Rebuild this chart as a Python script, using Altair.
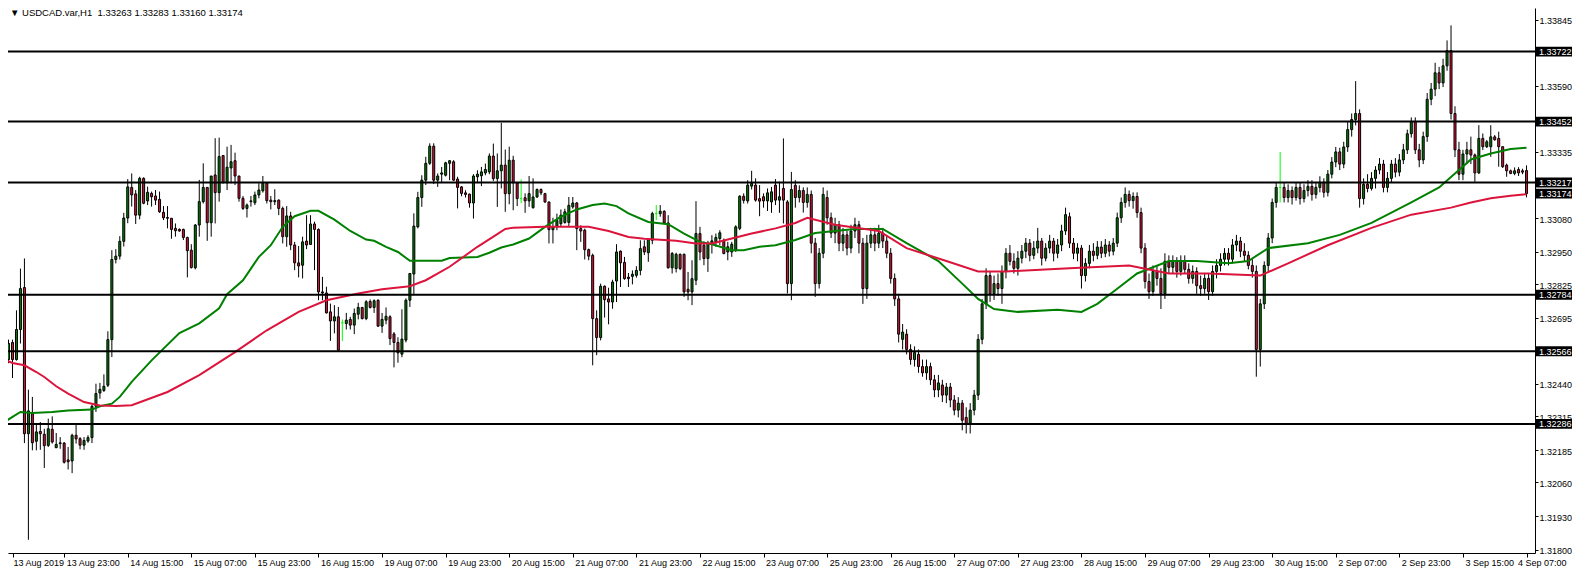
import altair as alt
import pandas as pd
import numpy as np

# ---------------- data ----------------
opens = [1.32600,1.32534,1.32600,1.32534,1.32650,1.32812,1.32248,1.32325,1.32219,1.32257,
1.32246,1.32203,1.32265,1.32194,1.32210,1.32212,1.32147,1.32143,1.32242,1.32229,
1.32204,1.32220,1.32233,1.32354,1.32405,1.32415,1.32435,1.32611,1.32920,1.32933,
1.32990,1.33080,1.33198,1.33173,1.33091,1.33233,1.33146,1.33175,1.33165,1.33152,
1.33102,1.33082,1.33079,1.33040,1.33036,1.33036,1.33005,1.32956,1.32888,1.33053,
1.33143,1.33198,1.33062,1.33246,1.33178,1.33321,1.33216,1.33273,1.33301,1.33242,
1.33156,1.33117,1.33143,1.33139,1.33169,1.33185,1.33214,1.33149,1.33143,1.33149,
1.33117,1.33008,1.33088,1.32976,1.32907,1.32898,1.32991,1.32978,1.33057,1.33036,
1.32795,1.32791,1.32718,1.32683,1.32699,1.32676,1.32673,1.32689,1.32667,1.32709,
1.32735,1.32692,1.32758,1.32735,1.32763,1.32663,1.32686,1.32699,1.32633,1.32600,
1.32555,1.32609,1.32763,1.32864,1.33046,1.33159,1.33226,1.33291,1.33357,1.33226,
1.33249,1.33245,1.33291,1.33297,1.33230,1.33200,1.33177,1.33172,1.33138,1.33239,
1.33243,1.33254,1.33258,1.33319,1.33232,1.33262,1.33284,1.33174,1.33303,1.33216,
1.33155,1.33158,1.33146,1.33120,1.33161,1.33190,1.33174,1.33142,1.33035,1.33046,
1.33058,1.33063,1.33063,1.33123,1.33138,1.33039,1.33033,1.32958,1.32936,1.32692,
1.32619,1.32817,1.32768,1.32756,1.32837,1.32952,1.32909,1.32852,1.32855,1.32859,
1.32878,1.32969,1.32946,1.32994,1.33097,1.33097,1.33106,1.33061,1.32888,1.32885,
1.32940,1.32940,1.32805,1.32795,1.32840,1.33020,1.32975,1.32924,1.32979,1.32988,
1.33001,1.32994,1.32949,1.32949,1.32956,1.33040,1.33164,1.33146,1.33203,1.33207,
1.33155,1.33162,1.33146,1.33142,1.33207,1.33149,1.33194,1.33142,1.32827,
1.33206,1.33159,1.33186,1.33140,1.33171,1.32983,1.32827,1.32944,1.33159,1.33081,
1.33022,1.33054,1.32983,1.33015,1.32964,1.33030,1.33054,1.32983,1.32808,1.32983,
1.33015,1.32983,1.33022,1.32991,1.32944,1.32847,1.32768,1.32612,1.32632,1.32573,
1.32534,1.32554,1.32507,1.32483,1.32507,1.32456,1.32417,1.32436,1.32397,1.32428,
1.32378,1.32339,1.32366,1.32311,1.32288,1.32339,1.32397,1.32612,1.32749,1.32858,
1.32788,1.32827,1.32808,1.32874,1.32944,1.32913,1.32886,1.32925,1.32952,1.32983,
1.32936,1.32964,1.32991,1.32925,1.32964,1.32991,1.32944,1.32976,1.33030,1.33085,
1.32983,1.32944,1.32964,1.32858,1.32905,1.32952,1.32936,1.32968,1.32944,1.32976,
1.32952,1.32983,1.33081,1.33140,1.33171,1.33147,1.33163,1.33101,1.32964,1.32835,
1.32796,1.32874,1.32847,1.32788,1.32913,1.32890,1.32913,1.32874,1.32913,1.32882,
1.32847,1.32874,1.32819,1.32808,1.32847,1.32796,1.32874,1.32897,1.32921,1.32944,
1.32921,1.32976,1.32991,1.32952,1.32936,1.32897,1.32874,1.32573,1.32749,1.32897,
1.33003,1.33140,1.33198,1.33198,1.33159,1.33186,1.33159,1.33198,1.33155,1.33186,
1.33202,1.33171,1.33198,1.33218,1.33179,1.33249,1.33296,1.33335,1.33288,1.33354,
1.33421,1.33460,1.33483,1.33155,1.33210,1.33194,1.33233,1.33265,1.33288,1.33198,
1.33233,1.33288,1.33257,1.33304,1.33343,1.33405,1.33452,1.33343,1.33304,1.33394,
1.33538,1.33577,1.33640,1.33601,1.33667,1.33726,1.33483,1.33343,1.33249,1.33327,
1.33343,1.33323,1.33254,1.33387,1.33355,1.33355,1.33393,1.33387,1.33355,1.33284,
1.33262,1.33252,1.33267,1.33262,1.33263]
highs = [1.32628,1.32611,1.32611,1.32724,1.32885,1.32924,1.32418,1.32390,1.32289,1.32293,
1.32267,1.32306,1.32315,1.32251,1.32235,1.32216,1.32197,1.32248,1.32289,1.32235,
1.32235,1.32242,1.32360,1.32441,1.32444,1.32477,1.32643,1.32956,1.32960,1.33010,
1.33100,1.33230,1.33252,1.33188,1.33239,1.33237,1.33201,1.33182,1.33188,1.33182,
1.33126,1.33126,1.33079,1.33059,1.33040,1.33039,1.33008,1.32979,1.33057,1.33227,
1.33291,1.33198,1.33242,1.33388,1.33390,1.33323,1.33355,1.33362,1.33332,1.33242,
1.33165,1.33136,1.33165,1.33182,1.33214,1.33242,1.33216,1.33165,1.33191,1.33152,
1.33124,1.33126,1.33104,1.32988,1.32972,1.33008,1.33091,1.33091,1.33066,1.33040,
1.32853,1.32815,1.32750,1.32744,1.32737,1.32689,1.32714,1.32699,1.32731,1.32753,
1.32737,1.32763,1.32766,1.32766,1.32766,1.32714,1.32735,1.32705,1.32640,1.32620,
1.32728,1.32770,1.32866,1.33098,1.33181,1.33245,1.33316,1.33368,1.33368,1.33252,
1.33277,1.33297,1.33303,1.33303,1.33239,1.33203,1.33187,1.33174,1.33249,1.33264,
1.33277,1.33290,1.33329,1.33367,1.33329,1.33447,1.33344,1.33355,1.33320,1.33216,
1.33229,1.33175,1.33242,1.33233,1.33194,1.33194,1.33177,1.33142,1.33081,1.33097,
1.33113,1.33116,1.33161,1.33161,1.33142,1.33052,1.33039,1.32962,1.32943,1.32724,
1.32827,1.32820,1.32811,1.32842,1.32979,1.32955,1.32930,1.32868,1.32878,1.32894,
1.32994,1.32994,1.33001,1.33104,1.33130,1.33130,1.33110,1.33091,1.32949,1.32946,
1.32943,1.32943,1.32872,1.32917,1.33145,1.33046,1.32990,1.32992,1.33014,1.33020,
1.33033,1.33001,1.32988,1.32988,1.33052,1.33168,1.33175,1.33226,1.33262,1.33233,
1.33207,1.33175,1.33194,1.33200,1.33230,1.33220,1.33387,1.33149,1.33258,
1.33226,1.33206,1.33198,1.33198,1.33186,1.33003,1.32964,1.33198,1.33186,1.33101,
1.33081,1.33069,1.33042,1.33030,1.33054,1.33081,1.33069,1.33003,1.33015,1.33042,
1.33042,1.33054,1.33042,1.33015,1.32964,1.32866,1.32788,1.32671,1.32651,1.32593,
1.32585,1.32573,1.32534,1.32534,1.32522,1.32475,1.32475,1.32456,1.32444,1.32444,
1.32397,1.32389,1.32378,1.32350,1.32366,1.32417,1.32632,1.32768,1.32886,1.32874,
1.32858,1.32866,1.32897,1.32964,1.32976,1.32944,1.32952,1.32976,1.33003,1.32999,
1.32991,1.33042,1.33003,1.32983,1.33015,1.33003,1.32999,1.33054,1.33120,1.33101,
1.33003,1.32983,1.32976,1.32925,1.32976,1.32983,1.32991,1.32991,1.32999,1.32991,
1.33003,1.33101,1.33159,1.33198,1.33186,1.33179,1.33179,1.33120,1.32983,1.32866,
1.32897,1.32897,1.32886,1.32944,1.32936,1.32936,1.32929,1.32936,1.32936,1.32905,
1.32897,1.32890,1.32858,1.32866,1.32866,1.32897,1.32921,1.32944,1.32964,1.32964,
1.32999,1.33015,1.33007,1.32983,1.32952,1.32925,1.32897,1.32768,1.32913,1.33022,
1.33155,1.33218,1.33335,1.33218,1.33210,1.33202,1.33218,1.33218,1.33210,1.33226,
1.33226,1.33218,1.33241,1.33233,1.33265,1.33315,1.33354,1.33351,1.33374,1.33452,
1.33483,1.33608,1.33499,1.33233,1.33249,1.33257,1.33280,1.33311,1.33304,1.33257,
1.33304,1.33311,1.33327,1.33366,1.33421,1.33468,1.33468,1.33366,1.33413,1.33562,
1.33601,1.33679,1.33663,1.33694,1.33765,1.33823,1.33511,1.33374,1.33343,1.33374,
1.33394,1.33329,1.33438,1.33406,1.33381,1.33438,1.33400,1.33413,1.33355,1.33290,
1.33267,1.33275,1.33276,1.33270,1.33283]
lows = [1.32490,1.32520,1.32463,1.32530,1.32596,1.32212,1.31839,1.32184,1.32184,1.32186,
1.32116,1.32197,1.32210,1.32193,1.32190,1.32133,1.32110,1.32096,1.32210,1.32188,
1.32186,1.32213,1.32212,1.32332,1.32383,1.32409,1.32428,1.32544,1.32905,1.32920,
1.32970,1.33060,1.33124,1.33057,1.33075,1.33133,1.33130,1.33124,1.33130,1.33100,
1.33072,1.33040,1.33000,1.33008,1.33027,1.32995,1.32851,1.32885,1.32882,1.33008,
1.33136,1.32992,1.33008,1.33059,1.33143,1.33214,1.33188,1.33214,1.33207,1.33143,
1.33111,1.33082,1.33124,1.33130,1.33156,1.33178,1.33136,1.33113,1.33130,1.33091,
1.32982,1.32969,1.32956,1.32879,1.32851,1.32847,1.32960,1.32976,1.32879,1.32763,
1.32763,1.32712,1.32606,1.32635,1.32568,1.32606,1.32650,1.32650,1.32632,1.32689,
1.32689,1.32686,1.32731,1.32714,1.32660,1.32637,1.32670,1.32590,1.32504,1.32522,
1.32543,1.32600,1.32737,1.32782,1.33040,1.33123,1.33207,1.33285,1.33211,1.33200,
1.33219,1.33240,1.33226,1.33223,1.33117,1.33164,1.33159,1.33120,1.33078,1.33215,
1.33203,1.33245,1.33249,1.33223,1.33123,1.33194,1.33104,1.33133,1.33110,1.33126,
1.33138,1.33100,1.33123,1.33116,1.33158,1.33168,1.33138,1.32982,1.32982,1.33033,
1.33049,1.33058,1.33046,1.33116,1.32956,1.32988,1.32920,1.32917,1.32512,1.32551,
1.32608,1.32696,1.32670,1.32730,1.32756,1.32814,1.32842,1.32814,1.32824,1.32850,
1.32859,1.32937,1.32911,1.32979,1.33072,1.33085,1.33059,1.32885,1.32866,1.32870,
1.32879,1.32776,1.32763,1.32744,1.32821,1.32917,1.32898,1.32872,1.32943,1.32969,
1.32975,1.32940,1.32917,1.32930,1.32949,1.33033,1.33136,1.33136,1.33190,1.33143,
1.33087,1.33120,1.33107,1.33100,1.33130,1.33100,1.33059,1.32789,1.32763,
1.33120,1.33140,1.33101,1.33120,1.32944,1.32776,1.32808,1.32925,1.33054,1.33003,
1.32983,1.32952,1.32952,1.32936,1.32944,1.33003,1.32944,1.32749,1.32768,1.32964,
1.32952,1.32964,1.32964,1.32925,1.32827,1.32741,1.32600,1.32573,1.32554,1.32514,
1.32507,1.32483,1.32468,1.32456,1.32436,1.32389,1.32389,1.32370,1.32366,1.32350,
1.32319,1.32311,1.32261,1.32249,1.32249,1.32319,1.32378,1.32593,1.32729,1.32757,
1.32764,1.32780,1.32749,1.32847,1.32897,1.32866,1.32858,1.32905,1.32925,1.32913,
1.32921,1.32944,1.32897,1.32913,1.32944,1.32913,1.32925,1.32952,1.33015,1.32964,
1.32921,1.32913,1.32808,1.32835,1.32886,1.32913,1.32921,1.32925,1.32929,1.32932,
1.32936,1.32968,1.33061,1.33120,1.33124,1.33116,1.33081,1.32944,1.32808,1.32768,
1.32780,1.32819,1.32729,1.32768,1.32866,1.32866,1.32850,1.32858,1.32866,1.32827,
1.32827,1.32788,1.32780,1.32788,1.32764,1.32780,1.32847,1.32874,1.32897,1.32897,
1.32905,1.32952,1.32929,1.32913,1.32882,1.32850,1.32468,1.32507,1.32729,1.32874,
1.32983,1.33120,1.33140,1.33140,1.33140,1.33132,1.33147,1.33132,1.33140,1.33163,
1.33147,1.33155,1.33179,1.33159,1.33163,1.33233,1.33276,1.33265,1.33272,1.33335,
1.33394,1.33437,1.33120,1.33132,1.33179,1.33186,1.33194,1.33249,1.33179,1.33179,
1.33218,1.33237,1.33241,1.33288,1.33327,1.33390,1.33327,1.33276,1.33288,1.33374,
1.33515,1.33550,1.33577,1.33585,1.33648,1.33460,1.33315,1.33226,1.33226,1.33288,
1.33288,1.33220,1.33250,1.33342,1.33350,1.33316,1.33378,1.33278,1.33273,1.33239,
1.33249,1.33245,1.33242,1.33249,1.33160]
closes = [1.32534,1.32596,1.32534,1.32650,1.32808,1.32248,1.32336,1.32213,1.32255,1.32248,
1.32202,1.32267,1.32216,1.32207,1.32213,1.32138,1.32140,1.32242,1.32228,1.32204,
1.32222,1.32233,1.32354,1.32403,1.32419,1.32431,1.32611,1.32920,1.32933,1.32990,
1.33080,1.33200,1.33169,1.33091,1.33233,1.33137,1.33179,1.33162,1.33149,1.33104,
1.33081,1.33079,1.33036,1.33031,1.33030,1.33005,1.32954,1.32889,1.33053,1.33143,
1.33198,1.33062,1.33242,1.33178,1.33317,1.33216,1.33276,1.33297,1.33242,1.33156,
1.33117,1.33130,1.33146,1.33169,1.33188,1.33214,1.33147,1.33143,1.33147,1.33117,
1.33008,1.33088,1.32976,1.32907,1.32895,1.32988,1.32976,1.33057,1.33036,1.32795,
1.32791,1.32714,1.32683,1.32699,1.32570,1.32676,1.32686,1.32667,1.32712,1.32735,
1.32692,1.32757,1.32735,1.32761,1.32663,1.32689,1.32701,1.32615,1.32600,1.32560,
1.32613,1.32763,1.32866,1.33049,1.33159,1.33226,1.33291,1.33357,1.33226,1.33242,
1.33254,1.33293,1.33301,1.33226,1.33198,1.33175,1.33171,1.33138,1.33242,1.33249,
1.33258,1.33267,1.33319,1.33232,1.33262,1.33284,1.33174,1.33303,1.33216,1.33155,
1.33155,1.33146,1.33174,1.33161,1.33190,1.33177,1.33142,1.33035,1.33046,1.33071,
1.33091,1.33104,1.33129,1.33138,1.33039,1.33030,1.32958,1.32933,1.32692,1.32619,
1.32817,1.32765,1.32756,1.32833,1.32949,1.32907,1.32846,1.32846,1.32863,1.32878,
1.32962,1.32949,1.32997,1.33097,1.33097,1.33106,1.33061,1.32888,1.32943,1.32940,
1.32885,1.32795,1.32795,1.32846,1.33020,1.32949,1.32924,1.32982,1.32992,1.33005,
1.33023,1.32943,1.32969,1.32979,1.33046,1.33164,1.33148,1.33207,1.33213,1.33149,
1.33145,1.33146,1.33177,1.33181,1.33149,1.33162,1.33149,1.32827,1.33190,
1.33159,1.33186,1.33140,1.33171,1.32983,1.32827,1.32944,1.33171,1.33081,1.33022,
1.33054,1.32983,1.33015,1.32964,1.33030,1.33054,1.32983,1.32808,1.32983,1.33015,
1.32983,1.33022,1.32991,1.32944,1.32847,1.32768,1.32632,1.32640,1.32573,1.32534,
1.32561,1.32507,1.32483,1.32507,1.32456,1.32417,1.32444,1.32397,1.32428,1.32378,
1.32339,1.32366,1.32300,1.32288,1.32339,1.32397,1.32612,1.32749,1.32858,1.32788,
1.32827,1.32808,1.32874,1.32944,1.32913,1.32886,1.32925,1.32952,1.32983,1.32936,
1.32964,1.32991,1.32925,1.32964,1.32991,1.32944,1.32976,1.33030,1.33093,1.32983,
1.32944,1.32964,1.32858,1.32905,1.32952,1.32936,1.32968,1.32944,1.32976,1.32952,
1.32983,1.33081,1.33140,1.33171,1.33147,1.33163,1.33101,1.32964,1.32835,1.32796,
1.32874,1.32847,1.32788,1.32913,1.32890,1.32913,1.32874,1.32913,1.32882,1.32847,
1.32874,1.32819,1.32808,1.32847,1.32796,1.32874,1.32897,1.32921,1.32944,1.32921,
1.32976,1.32991,1.32952,1.32936,1.32897,1.32874,1.32573,1.32749,1.32897,1.33003,
1.33140,1.33198,1.33198,1.33159,1.33186,1.33159,1.33198,1.33155,1.33186,1.33202,
1.33171,1.33198,1.33218,1.33179,1.33249,1.33296,1.33335,1.33288,1.33354,1.33421,
1.33460,1.33483,1.33155,1.33210,1.33194,1.33233,1.33265,1.33288,1.33198,1.33233,
1.33288,1.33257,1.33304,1.33343,1.33405,1.33452,1.33343,1.33304,1.33394,1.33538,
1.33577,1.33640,1.33601,1.33667,1.33726,1.33483,1.33343,1.33249,1.33327,1.33343,
1.33323,1.33254,1.33387,1.33355,1.33374,1.33393,1.33382,1.33355,1.33278,1.33262,
1.33252,1.33262,1.33254,1.33257,1.33174]

fast_ma_bar = [0,2,4,7,12,16,22,24,27,29,32,37,44,49,54,56,60,64,67,70,73,77,79,83,87,91,93,96,99,102,
110,112,119,122,125,128,132,136,140,144,148,151,154,157,162,167,171,175,178,183,186,190,194,199,204,214,221,227,235,241,
245,249,255,265,271,275,280,285,293,300,308,313,318,328,336,344,354,361,366,369,374,379,383]
fast_ma_val = [1.32293,1.32313,1.32332,1.32328,1.32332,1.32338,1.32341,1.32354,1.32364,1.32390,1.32448,1.32531,1.32636,1.32674,1.32732,1.32786,1.32840,1.32930,1.32975,1.33046,
1.33087,1.33108,1.33108,1.33074,1.33030,1.32997,1.32992,1.32969,1.32949,1.32915,
1.32915,1.32926,1.32930,1.32946,1.32966,1.32978,1.33001,1.33046,1.33085,1.33113,
1.33130,1.33136,1.33126,1.33098,1.33065,1.33056,1.33020,1.32988,1.32979,1.32956,
1.32956,1.32969,1.32975,1.32995,1.33022,1.33038,1.33038,1.32983,1.32914,1.32827,
1.32768,1.32729,1.32718,1.32726,1.32718,1.32749,1.32807,1.32866,1.32914,1.32914,
1.32906,1.32914,1.32964,1.32983,1.33015,1.33061,1.33140,1.33198,1.33265,1.33306,
1.33329,1.33346,1.33351]

slow_ma_bar = [0,2,5,8,10,13,16,20,24,28,32,41,49,58,66,74,81,89,95,102,106,112,119,124,126,128,136,147,152,157,
161,169,174,178,182,188,194,199,202,209,220,227,237,245,252,268,283,293,303,316,323,333,344,354,364,369,374,379,383]
slow_ma_val = [1.32534,1.32521,1.32512,1.32486,1.32467,1.32431,1.32403,1.32370,1.32357,1.32355,
1.32358,1.32409,1.32474,1.32563,1.32647,1.32718,1.32763,1.32789,1.32805,1.32817,
1.32840,1.32892,1.32969,1.33018,1.33038,1.33042,1.33046,1.33046,1.33030,1.33007,
1.33000,1.32992,1.32982,1.32982,1.32997,1.33020,1.33040,1.33061,1.33081,1.33054,
1.33030,1.32964,1.32914,1.32874,1.32874,1.32886,1.32897,1.32866,1.32866,1.32858,
1.32905,1.32975,1.33042,1.33093,1.33120,1.33140,1.33156,1.33166,1.33172]

level_prices = [1.33722, 1.33452, 1.33217, 1.32784, 1.32566, 1.32286]
current_price = 1.33174
y_tick_values = [1.33845, 1.33590, 1.33335, 1.33080, 1.32950, 1.32825, 1.32695,
                 1.32440, 1.32315, 1.32185, 1.32060, 1.31930, 1.31800]
x_labels = ['13 Aug 2019', '13 Aug 23:00', '14 Aug 15:00', '15 Aug 07:00', '15 Aug 23:00',
            '16 Aug 15:00', '19 Aug 07:00', '19 Aug 23:00', '20 Aug 15:00', '21 Aug 07:00',
            '21 Aug 23:00', '22 Aug 15:00', '23 Aug 07:00', '25 Aug 23:00', '26 Aug 15:00',
            '27 Aug 07:00', '27 Aug 23:00', '28 Aug 15:00', '29 Aug 07:00', '29 Aug 23:00',
            '30 Aug 15:00', '2 Sep 07:00', '2 Sep 23:00', '3 Sep 15:00', '4 Sep 07:00']
title_text = "\u25BC\u00A0USDCAD.var,H1\u00A0\u00A01.33263 1.33283 1.33160 1.33174"

# ---------------- layout ----------------
# SVG kept 1564 px wide so the browser never rescales it
W, H = 1527, 545
PAD_R, PAD_B = 37, 18
X_DOMAIN = [2.125, 2.125 + W / 4.0]
Y_DOMAIN = [1.31788, 1.33890]
FONT = "Liberation Sans"
FS = 9
GREEN = "#008000"
RED = "#DC143C"

n = min(len(opens), len(highs), len(lows), len(closes))
candles = pd.DataFrame({"i": list(range(n)), "o": opens[:n], "h": highs[:n],
                        "l": lows[:n], "c": closes[:n]})
candles["dir"] = np.where(candles.c > candles.o, "up", np.where(candles.c < candles.o, "down", "doji"))

fast = pd.DataFrame({"i": fast_ma_bar, "p": fast_ma_val})
slow = pd.DataFrame({"i": slow_ma_bar, "p": slow_ma_val})
levels = pd.DataFrame({"p": level_prices})
boxes = pd.DataFrame({"p": level_prices + [current_price]})
boxes["lab"] = boxes["p"].map(lambda v: f"{v:.5f}")

tick_bars = [X_DOMAIN[0]] + [15 + 16 * k for k in range(len(x_labels) - 1)]
arr = "[" + ",".join("'" + t + "'" for t in x_labels) + "]"
label_expr = arr + "[datum.value < 10 ? 0 : round((datum.value - 15) / 16) + 1]"

xaxis = alt.Axis(orient="bottom", values=tick_bars, labelExpr=label_expr, labelAlign="left",
                 labelBaseline="top", tickSize=4, labelPadding=1,
                 labelOffset={"condition": [{"test": "datum.value < 10", "value": 0},
                                            {"test": "datum.value > 380", "value": -9}],
                              "value": 2},
                 labelFontSize=9, labelFlush=False, labelOverlap=False, title=None, grid=False)
yaxis = alt.Axis(orient="right", values=y_tick_values, format=".5f", tickSize=3,
                 labelPadding=1, labelOffset=1, labelFlush=False, labelOverlap=False,
                 title=None, grid=False)
xscale = alt.Scale(domain=X_DOMAIN, nice=False, zero=False)
yscale = alt.Scale(domain=Y_DOMAIN, nice=False, zero=False)


def X(field):
    return alt.X(field, type="quantitative", scale=xscale, axis=xaxis)


def Y(field):
    return alt.Y(field, type="quantitative", scale=yscale, axis=yaxis)


wicks = alt.Chart(candles).mark_rule(strokeWidth=1, clip=True).encode(
    x=X("i"), y=Y("l"), y2="h",
    color=alt.Color("dir:N", scale=alt.Scale(domain=["up", "down", "doji"],
                                             range=["#000000", "#000000", "#00FF00"]), legend=None))

bodies = alt.Chart(candles).mark_bar(width=2, strokeWidth=1, clip=True).encode(
    x=X("i"), y=Y("o"), y2="c",
    fill=alt.Fill("dir:N", scale=alt.Scale(domain=["up", "down", "doji"],
                                           range=[GREEN, RED, "#00FF00"]), legend=None),
    stroke=alt.Stroke("dir:N", scale=alt.Scale(domain=["up", "down", "doji"],
                                               range=["#000000", "#000000", "#00FF00"]), legend=None))

fast_line = alt.Chart(fast).mark_line(color=GREEN, strokeWidth=2, clip=True).encode(x=X("i"), y=Y("p"))
slow_line = alt.Chart(slow).mark_line(color=RED, strokeWidth=2, clip=True).encode(x=X("i"), y=Y("p"))

level_lines = alt.Chart(levels).mark_rule(color="black", strokeWidth=2).encode(y=Y("p"))

box_rects = alt.Chart(boxes).transform_calculate(
    top="datum.p + 0.00019", bot="datum.p - 0.00019"
).mark_rect(color="black").encode(
    x=alt.value(W + 1), x2=alt.value(W + PAD_R), y=Y("top:Q"), y2="bot:Q")

box_text = alt.Chart(boxes).mark_text(align="left", baseline="middle", color="white",
                                      font=FONT, fontSize=FS, dy=0.5).encode(
    x=alt.value(W + 4), y=Y("p"), text="lab:N")

title_layer = alt.Chart(pd.DataFrame({"t": [title_text]})).mark_text(
    align="left", baseline="top", font=FONT, fontSize=9.5, color="black").encode(
    x=alt.value(2), y=alt.value(0), text="t:N")

chart = alt.layer(
    wicks, bodies, fast_line, slow_line, level_lines, box_rects, box_text, title_layer
).properties(
    width=W, height=H,
    autosize=alt.AutoSizeParams(type="none"),
    padding={"left": 0, "top": 0, "right": PAD_R, "bottom": PAD_B},
    background="white",
).configure_view(strokeWidth=0).configure_axis(
    labelFont=FONT, labelFontSize=FS, labelColor="black", domainColor="black",
    tickColor="black", domainWidth=1, tickWidth=1)

chart.save("out.html", embed_options={"renderer": "svg", "actions": False})
